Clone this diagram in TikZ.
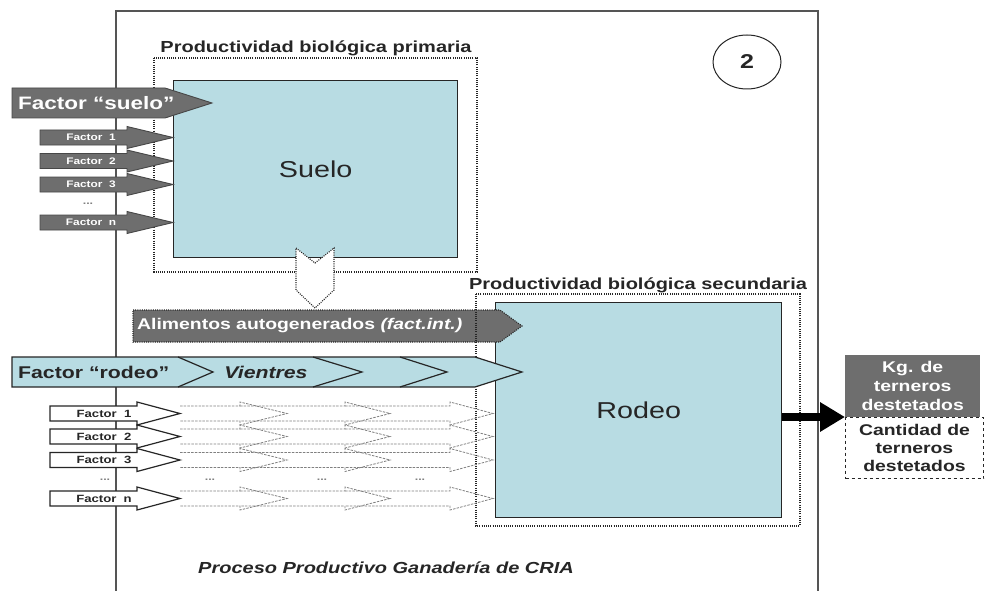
\documentclass[tikz,border=0pt]{standalone}
\usepackage{fontspec}
\setmainfont{Liberation Sans}[FakeStretch=1.25]
\usetikzlibrary{arrows.meta,shapes.geometric}
\definecolor{lblue}{HTML}{B8DCE3}
\definecolor{dgray}{HTML}{6E6E6E}
\definecolor{framec}{HTML}{555555}
\definecolor{ink}{HTML}{262626}
\newcommand\fsz[2]{\fontsize{#1}{#2}\selectfont}
\tikzset{
  frameline/.style={draw=framec, line width=1.4pt},
  dotframe/.style={draw=ink, line width=1.1pt, dash pattern=on 1pt off 1.2pt},
  bluebox/.style={draw=ink, fill=lblue, line width=1.3pt, inner sep=0pt},
  grayarrow/.style={draw=ink!85, fill=dgray, line width=0.9pt},
  whitearrow/.style={draw=ink, fill=white, line width=1.2pt},
  dasharrow/.style={draw=black!50, line width=0.8pt, dash pattern=on 2.5pt off 1.2pt},
  lab/.style={font=\fsz{16}{18}\bfseries, text=ink, inner sep=0pt},
  smallw/.style={font=\fsz{9.5}{10}\bfseries, text=white, inner sep=0pt},
  smallk/.style={font=\fsz{10.5}{11}\bfseries, text=ink, inner sep=0pt},
  dots/.style={font=\fsz{10}{10}\bfseries, text=gray, inner sep=0pt},
}
\newcommand\grayfactor[3]{%
  \draw[grayarrow] (40,{#1-7.5}) -- (127,{#1-7.5}) -- (127,{#1-11}) -- (173,#1)
    -- (127,{#1+11}) -- (127,{#1+7.5}) -- (40,{#1+7.5}) -- cycle;
  \node[smallw] (#2) at (91,#1) {#3};
}
\newcommand\whitefactor[3]{%
  \draw[dasharrow] (180,{#1-7.5}) -- (240,{#1-7.5}) -- (240,{#1-11.5}) -- (287,#1)
    -- (240,{#1+11.5}) -- (240,{#1+7.5}) -- (180,{#1+7.5});
  \draw[dasharrow] (240,{#1-7.5}) -- (345,{#1-7.5}) -- (345,{#1-11.5}) -- (390,#1)
    -- (345,{#1+11.5}) -- (345,{#1+7.5}) -- (240,{#1+7.5});
  \draw[dasharrow] (345,{#1-7.5}) -- (450,{#1-7.5}) -- (450,{#1-11.5}) -- (493,#1)
    -- (450,{#1+11.5}) -- (450,{#1+7.5}) -- (345,{#1+7.5});
  \draw[whitearrow] (50,{#1-7.5}) -- (137,{#1-7.5}) -- (137,{#1-11.5}) -- (180,#1)
    -- (137,{#1+11.5}) -- (137,{#1+7.5}) -- (50,{#1+7.5}) -- cycle;
  \node[smallk] (#2) at (104,#1) {#3};
}
\begin{document}
\begin{tikzpicture}[x=1pt,y=-1pt]
\useasboundingbox[fill=white] (0,0) rectangle (990,591);
% outer frame
\draw[frameline] (116,591) -- (116,11) -- (818,11) -- (818,591);
\node[draw=ink, line width=1pt, ellipse, minimum width=68pt, minimum height=54pt,
      inner sep=0pt, font=\fsz{20}{22}\bfseries, text=ink] (num) at (747,62) {2};
% primary productivity
\node[lab] (plab) at (316,48) {Productividad biológica primaria};
\draw[dotframe] (154,58) rectangle (477,272);
\node[bluebox, anchor=north west, minimum width=284pt, minimum height=177pt,
      font=\fsz{23}{25}, text=ink] (suelo) at (173,80) {Suelo};
\draw[dotframe, fill=white] (296,248) -- (315,263) -- (334,248) -- (334,290)
  -- (315,308) -- (296,290) -- cycle;
% soil factors
\draw[grayarrow] (12,88) -- (165,88) -- (212,103) -- (165,118) -- (12,118) -- cycle;
\node[font=\fsz{18}{20}\bfseries, text=white, inner sep=0pt, anchor=west] (fsuelo) at (18,103) {Factor “suelo”};
\grayfactor{137.5}{gf1}{Factor\ \ 1}
\grayfactor{161}{gf2}{Factor\ \ 2}
\grayfactor{184.5}{gf3}{Factor\ \ 3}
\node[dots] (gfd) at (88,204) {...};
\grayfactor{222.5}{gfn}{Factor\ \ n}
% secondary productivity
\node[lab] (slab) at (638,285) {Productividad biológica secundaria};
\node[bluebox, anchor=north west, minimum width=286pt, minimum height=215pt,
      font=\fsz{23}{25}, text=ink] (rodeo) at (495,302) {Rodeo};
\draw[dotframe, fill=dgray] (133,310) -- (500,310) -- (522,326) -- (500,342) -- (133,342) -- cycle;
\node[font=\fsz{15.5}{17}\bfseries, text=white, inner sep=0pt, anchor=west] (alim) at (137,326)
  {Alimentos autogenerados \textit{(fact.int.)}};
\draw[dotframe] (476,294) rectangle (800,526);
% rodeo bar
\draw[draw=ink, fill=lblue, line width=1.2pt] (12,357) -- (475,357) -- (522,372) -- (475,387) -- (12,387) -- cycle;
\draw[draw=ink, line width=1.2pt] (178,357) -- (213,372) -- (178,387);
\draw[draw=ink, line width=1.2pt] (313,357) -- (362,372) -- (313,387);
\draw[draw=ink, line width=1.2pt] (400,357) -- (447,372) -- (400,387);
\node[font=\fsz{17}{19}\bfseries, text=ink, inner sep=0pt, anchor=west] (frodeo) at (18,372) {Factor “rodeo”};
\node[font=\fsz{17}{19}\bfseries\itshape, text=ink, inner sep=0pt] (vientres) at (266,372) {Vientres};
% herd factors
\whitefactor{413.5}{wf1}{Factor\ \ 1}
\whitefactor{436.5}{wf2}{Factor\ \ 2}
\whitefactor{460}{wf3}{Factor\ \ 3}
\node[dots] (wd1) at (105,480) {...};
\node[dots] (wd2) at (210,480) {...};
\node[dots] (wd3) at (322,480) {...};
\node[dots] (wd4) at (420,480) {...};
\whitefactor{498.5}{wfn}{Factor\ \ n}
% outputs
\node[fill=dgray, anchor=south west, minimum width=135pt, minimum height=62pt, inner sep=0pt,
      align=center, text=white, font=\fsz{15.5}{19}\bfseries] (kg) at (845,417) {Kg. de\\terneros\\destetados};
\node[draw=ink, dashed, line width=1pt, anchor=north west, minimum width=138pt, minimum height=61pt,
      inner sep=0pt, align=center, text=ink, font=\fsz{15.5}{18}\bfseries] (cant) at (845,417) {Cantidad de\\terneros\\destetados};
\coordinate (outtip) at (845,417);
\draw[line width=8pt, -{Triangle[length=25pt,width=28pt]}] (rodeo.east |- outtip) -- (outtip);
% title
\node[font=\fsz{16}{18}\bfseries\itshape, text=ink, inner sep=0pt] (title) at (386,568) {Proceso Productivo Ganadería de CRIA};
\end{tikzpicture}
\end{document}
